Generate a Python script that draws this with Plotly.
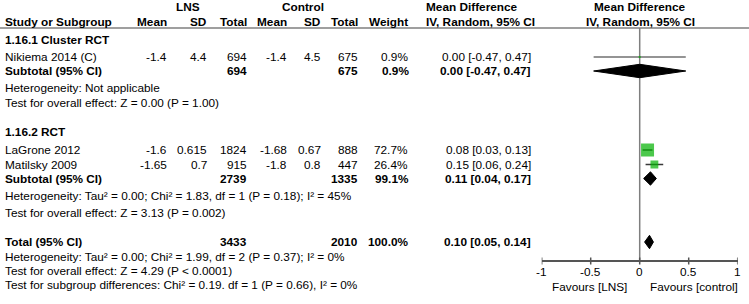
import math
import plotly.graph_objects as go

# ---------------- data ----------------
subgroups = ["1.16.1 Cluster RCT", "1.16.2 RCT"]
study_names = ["Nikiema 2014 (C)", "LaGrone 2012", "Matilsky 2009"]
study_group = [0, 1, 1]
lns_mean = [-1.4, -1.6, -1.65]
lns_sd = [4.4, 0.615, 0.7]
lns_total = [694, 1824, 915]
ctl_mean = [-1.4, -1.68, -1.8]
ctl_sd = [4.5, 0.67, 0.8]
ctl_total = [675, 888, 447]
study_weight = [0.9, 72.7, 26.4]
study_md = [0.00, 0.08, 0.15]
study_lo = [-0.47, 0.03, 0.06]
study_hi = [0.47, 0.13, 0.24]

sub_lns_total = [694, 2739]
sub_ctl_total = [675, 1335]
sub_weight = [0.9, 99.1]
sub_md = [0.00, 0.11]
sub_lo = [-0.47, 0.04]
sub_hi = [0.47, 0.17]
sub_heterogeneity = ["Heterogeneity: Not applicable",
                     "Heterogeneity: Tau² = 0.00; Chi² = 1.83, df = 1 (P = 0.18); I² = 45%"]
sub_overall = ["Test for overall effect: Z = 0.00 (P = 1.00)",
               "Test for overall effect: Z = 3.13 (P = 0.002)"]

total_lns = 3433
total_ctl = 2010
total_weight = 100.0
total_md = 0.10
total_lo = 0.05
total_hi = 0.14
total_heterogeneity = "Heterogeneity: Tau² = 0.00; Chi² = 1.99, df = 2 (P = 0.37); I² = 0%"
total_overall = "Test for overall effect: Z = 4.29 (P < 0.0001)"
subgroup_diff = "Test for subgroup differences: Chi² = 0.19. df = 1 (P = 0.66), I² = 0%"

axis_ticks = [-1, -0.5, 0, 0.5, 1]
axis_ticktext = ["-1", "-0.5", "0", "0.5", "1"]
favours_left = "Favours [LNS]"
favours_right = "Favours [control]"

# ---------------- layout constants (pixels) ----------------
W, H = 749, 304
FONT = "Liberation Sans, Arial, sans-serif"
FS = 11.8
y_group = [40, 132]
y_study = [57, 150, 164.5]
y_sub = [71, 178.5]
y_het = [88, 196]
y_ovr = [103, 213]
y_total, y_total_het, y_total_ovr, y_subdiff = 242, 256.5, 271, 285
y_axis = 261
y_ticklab = 272
y_favours = 287
y_hdr1, y_hdr2, y_line = 7, 22, 28
x_left = 4
col_right = {"lm": 168, "lsd": 208, "lt": 248, "cm": 288, "csd": 322, "ct": 359,
             "w": 409, "ci": 532}
x_lo_px, x_hi_px = 541.7, 737.7
GREEN = "#00b000"
GRAY = "#7f7f7f"
AXIS_COL = "#555555"
DIAMOND_H = 6.7
SQ_MAX = 13

annotations = []


def txt(x, y, s, anchor="left", bold=False, xref="paper"):
    if bold:
        s = "<b>" + s + "</b>"
    annotations.append(dict(x=x / W if xref == "paper" else x, y=y, xref=xref, yref="y",
                            text=s, showarrow=False, xanchor=anchor, yanchor="middle",
                            font=dict(family=FONT, size=FS, color="#000000"),
                            borderpad=0))


def fmt(v):
    return f"{v:g}"


def ci(m, l, h):
    return f"{m:.2f} [{l:.2f}, {h:.2f}]"


# headers
txt(188, y_hdr1, "LNS", "center", True)
txt(303, y_hdr1, "Control", "center", True)
txt(425, y_hdr1, "Mean Difference", "left", True)
txt(640, y_hdr1, "Mean Difference", "center", True)
txt(x_left, y_hdr2, "Study or Subgroup", "left", True)
for key, lab in [("lm", "Mean"), ("lsd", "SD"), ("lt", "Total"), ("cm", "Mean"),
                 ("csd", "SD"), ("ct", "Total"), ("w", "Weight")]:
    txt(col_right[key], y_hdr2, lab, "right", True)
txt(425, y_hdr2, "IV, Random, 95% CI", "left", True)
txt(640, y_hdr2, "IV, Random, 95% CI", "center", True)

# studies
for i, name in enumerate(study_names):
    y = y_study[i]
    txt(x_left, y, name)
    txt(col_right["lm"], y, fmt(lns_mean[i]), "right")
    txt(col_right["lsd"], y, fmt(lns_sd[i]), "right")
    txt(col_right["lt"], y, str(lns_total[i]), "right")
    txt(col_right["cm"], y, fmt(ctl_mean[i]), "right")
    txt(col_right["csd"], y, fmt(ctl_sd[i]), "right")
    txt(col_right["ct"], y, str(ctl_total[i]), "right")
    txt(col_right["w"], y, f"{study_weight[i]:.1f}%", "right")
    txt(col_right["ci"], y, ci(study_md[i], study_lo[i], study_hi[i]), "right")

# subgroups
for g, gname in enumerate(subgroups):
    txt(x_left, y_group[g], gname, "left", True)
    y = y_sub[g]
    txt(x_left, y, "Subtotal (95% CI)", "left", True)
    txt(col_right["lt"], y, str(sub_lns_total[g]), "right", True)
    txt(col_right["ct"], y, str(sub_ctl_total[g]), "right", True)
    txt(col_right["w"] + 1, y, f"{sub_weight[g]:.1f}%", "right", True)
    txt(col_right["ci"], y, ci(sub_md[g], sub_lo[g], sub_hi[g]), "right", True)
    txt(x_left, y_het[g], sub_heterogeneity[g])
    txt(x_left, y_ovr[g], sub_overall[g])

# total
txt(x_left, y_total, "Total (95% CI)", "left", True)
txt(col_right["lt"], y_total, str(total_lns), "right", True)
txt(col_right["ct"], y_total, str(total_ctl), "right", True)
txt(col_right["w"] + 1, y_total, f"{total_weight:.1f}%", "right", True)
txt(col_right["ci"], y_total, ci(total_md, total_lo, total_hi), "right", True)
txt(x_left, y_total_het, total_heterogeneity)
txt(x_left, y_total_ovr, total_overall)
txt(x_left, y_subdiff, subgroup_diff)

# axis tick labels and favours labels (placed on the forest x axis)
for t, lab in zip(axis_ticks, axis_ticktext):
    txt(t, y_ticklab, lab, "center", False, xref="x")
txt(-0.12, y_favours, favours_left, "right", False, xref="x")
txt(0.09, y_favours, favours_right, "left", False, xref="x")

fig = go.Figure()

# CI lines for studies
for i in range(len(study_names)):
    fig.add_trace(go.Scatter(x=[study_lo[i], study_hi[i]], y=[y_study[i], y_study[i]],
                             mode="lines", line=dict(color="#3a3a3a" if i else "#707070", width=1.3),
                             hoverinfo="skip", showlegend=False))

# squares
wmax = max(study_weight)
sizes = [max(2, SQ_MAX * math.sqrt(w / wmax)) for w in study_weight]
fig.add_trace(go.Scatter(x=study_md, y=y_study, mode="markers",
                         marker=dict(symbol="square", size=sizes, color=GREEN,
                                     line=dict(width=0)),
                         hoverinfo="skip", showlegend=False))


def diamond(m, l, h, y):
    fig.add_trace(go.Scatter(x=[l, m, h, m, l], y=[y, y - DIAMOND_H, y, y + DIAMOND_H, y],
                             mode="lines", fill="toself", fillcolor="#000000",
                             line=dict(color="#000000", width=1),
                             hoverinfo="skip", showlegend=False))


for g in range(len(subgroups)):
    diamond(sub_md[g], sub_lo[g], sub_hi[g], y_sub[g])
diamond(total_md, total_lo, total_hi, y_total)

shapes = [
    dict(type="line", xref="paper", yref="y", x0=0, x1=1, y0=y_line, y1=y_line,
         line=dict(color=GRAY, width=1.6), layer="below"),
    dict(type="line", xref="x", yref="y", x0=0, x1=0, y0=y_line, y1=y_axis,
         line=dict(color=GRAY, width=1.5), layer="below"),
]
for t in axis_ticks:
    shapes.append(dict(type="line", xref="x", yref="y", x0=t, x1=t, y0=y_axis + 3.5,
                       y1=y_axis - 3.5, line=dict(color=AXIS_COL, width=1.5)))

fig.update_layout(
    width=W, height=H, margin=dict(l=0, r=0, t=0, b=0),
    paper_bgcolor="white", plot_bgcolor="white",
    showlegend=False,
    xaxis=dict(domain=[x_lo_px / W, x_hi_px / W], range=[-1, 1], anchor="free",
               position=(H - y_axis) / H, showline=True, linecolor=AXIS_COL, linewidth=1.5,
               ticks="", tickvals=axis_ticks, showticklabels=False,
               showgrid=False, zeroline=False, fixedrange=True),
    yaxis=dict(domain=[0, 1], range=[H, 0], visible=False, fixedrange=True),
    shapes=shapes,
    annotations=annotations,
)

fig.write_html("out.html", config={"displayModeBar": False},
               post_script="document.body.style.margin='0';document.body.style.padding='0';")
